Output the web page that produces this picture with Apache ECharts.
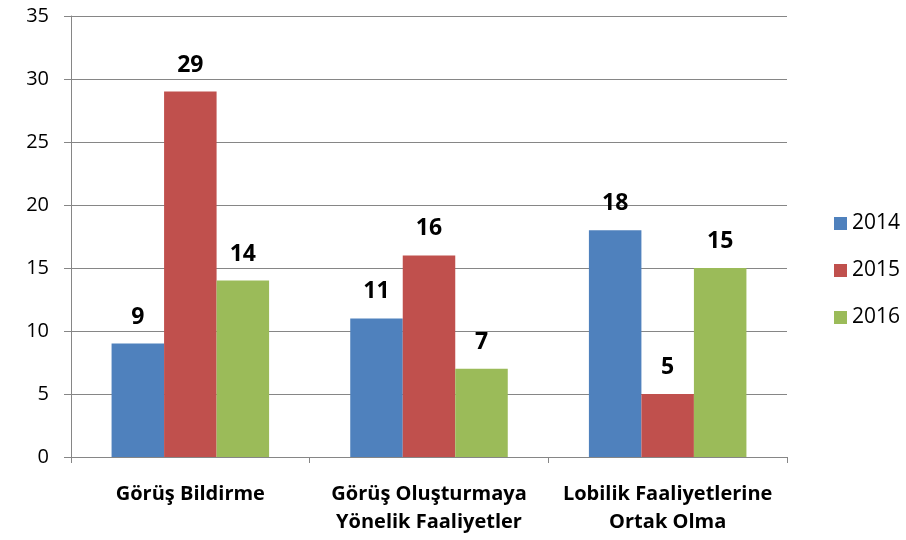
<!DOCTYPE html>
<html>
<head>
<meta charset="utf-8">
<script src="https://cdn.jsdelivr.net/npm/echarts@6/dist/echarts.min.js"></script>
<style>
html,body{margin:0;padding:0;background:#fff}
#chart{width:906px;height:540px}
</style>
</head>
<body>
<div id="chart"></div>
<script>
var categories = ['Görüş Bildirme', 'Görüş Oluşturmaya\nYönelik Faaliyetler', 'Lobilik Faaliyetlerine\nOrtak Olma']
var years = ['2014', '2015', '2016']
var values2014 = [9, 11, 18]
var values2015 = [29, 16, 5]
var values2016 = [14, 7, 15]
var colors = ['#4f81bd', '#c0504d', '#9bbb59']

var fontFamily = '"Open Sans", "DejaVu Sans", sans-serif'
var chart = echarts.init(document.getElementById('chart'))

function makeSeries(name, data, color){
    return {
        name: name,
        type: 'bar',
        data: data,
        barGap: '0%',
        barCategoryGap: '34%',
        itemStyle: {color: color},
        label: {
            show: true,
            position: 'top',
            distance: 15,
            color: '#000',
            fontWeight: 'bold',
            fontSize: 23,
            fontFamily: fontFamily
        }
    }
}

var option = {
    animation: false,
    grid: {left: 71, right: 119, top: 16, bottom: 83},
    legend: {
        orient: 'vertical',
        left: 829,
        top: 208,
        itemWidth: 13,
        itemHeight: 13,
        itemGap: 26,
        icon: 'rect',
        data: years,
        textStyle: {fontSize: 21, color: '#000', fontFamily: fontFamily}
    },
    xAxis: {
        type: 'category',
        data: categories,
        axisLine: {lineStyle: {color: '#868686', width: 1}},
        axisTick: {show: true, length: 6, lineStyle: {color: '#868686'}},
        axisLabel: {
            interval: 0,
            margin: 23,
            color: '#000',
            fontWeight: 'bold',
            fontSize: 20,
            lineHeight: 28,
            fontFamily: fontFamily
        }
    },
    yAxis: {
        type: 'value',
        min: 0,
        max: 35,
        interval: 5,
        axisLine: {show: true, lineStyle: {color: '#868686', width: 1}},
        axisTick: {show: true, length: 7, lineStyle: {color: '#868686'}},
        splitLine: {lineStyle: {color: '#868686', width: 1}},
        axisLabel: {margin: 22, color: '#000', fontSize: 20, fontFamily: fontFamily}
    },
    series: [
        makeSeries(years[0], values2014, colors[0]),
        makeSeries(years[1], values2015, colors[1]),
        makeSeries(years[2], values2016, colors[2])
    ]
}
chart.setOption(option)
</script>
</body>
</html>
